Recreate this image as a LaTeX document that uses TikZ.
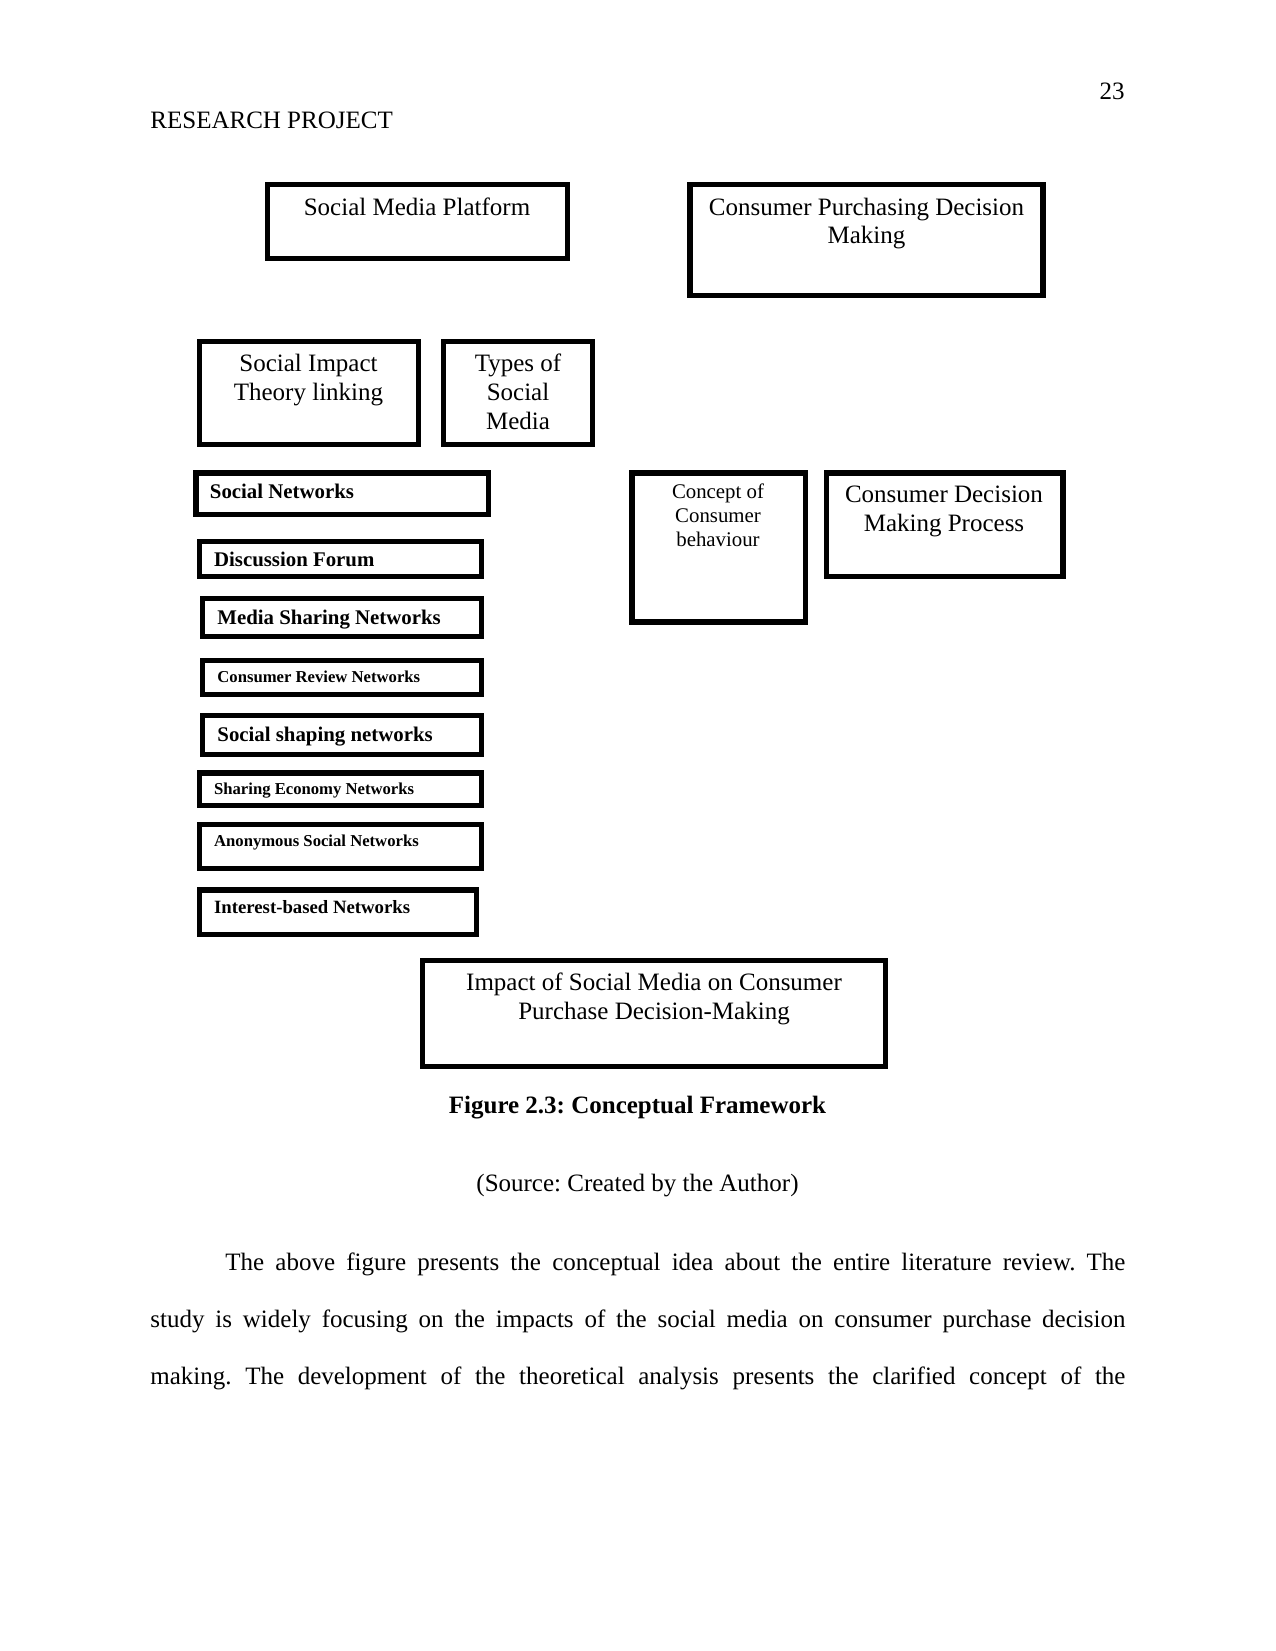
\documentclass[tikz,border=0pt]{standalone}
\usepackage{fontspec}
\setmainfont{Liberation Serif}
\usetikzlibrary{fit}
\frenchspacing
\tikzset{
  boxshape/.style={draw, line width=2.6pt, inner sep=0pt},
  twelve/.style={font=\fontsize{12}{13.8}\selectfont},
  ten/.style={font=\fontsize{10}{11.5}\selectfont},
  boldten/.style={font=\fontsize{10}{11.5}\selectfont\bfseries},
  boldnine/.style={font=\fontsize{9}{10.4}\selectfont\bfseries},
  boldeight/.style={font=\fontsize{8}{9.2}\selectfont\bfseries},
  lbl/.style={inner sep=0pt, anchor=base},
  lblw/.style={inner sep=0pt, anchor=base west},
}
\begin{document}
\frenchspacing
\begin{tikzpicture}[x=0.48pt, y=-0.48pt]
\useasboundingbox[fill=white] (0,0) rectangle (1275,1651);

% header
\node[lbl, twelve, anchor=base east] (pg) at (1125,100) {23};
\node[lblw, twelve] (hdr) at (150,128.5) {RESEARCH PROJECT};

% boxes
\node[boxshape, fit={(267.3,184.3) (567.7,258.7)}] (smp) {};
\node[boxshape, fit={(689.8,184.3) (1043.1,295.7)}] (cpdm) {};
\node[boxshape, fit={(199.3,341.3) (418.7,444.7)}] (sit) {};
\node[boxshape, fit={(443.3,341.3) (592.7,444.7)}] (tsm) {};
\node[boxshape, fit={(196,472.9) (488.3,514.7)}] (sn) {};
\node[boxshape, fit={(199.3,541.3) (481.7,576.7)}] (df) {};
\node[boxshape, fit={(631.9,472.9) (805.2,622)}] (ccb) {};
\node[boxshape, fit={(826.6,472.9) (1063.1,576.7)}] (cdmp) {};
\node[boxshape, fit={(202.3,598.3) (481.7,636.7)}] (msn) {};
\node[boxshape, fit={(202.3,660.3) (481.7,694.7)}] (crn) {};
\node[boxshape, fit={(202.3,715.3) (481.7,754.7)}] (ssn) {};
\node[boxshape, fit={(199.3,772.9) (481.7,805.2)}] (sen) {};
\node[boxshape, fit={(199.3,824.3) (481.7,868.4)}] (asn) {};
\node[boxshape, fit={(199.3,889.8) (476.7,934.7)}] (ibn) {};
\node[boxshape, fit={(422.3,960.3) (885.2,1066.3)}] (imp) {};

% box texts
\node[lbl, twelve] (smpt) at (417,215.5) {Social Media Platform};
\node[lbl, twelve] (cpdmt1) at (866.5,216) {Consumer Purchasing Decision};
\node[lbl, twelve] (cpdmt2) at (866.5,243.8) {Making};
\node[lbl, twelve] (sitt1) at (308.5,371) {Social Impact};
\node[lbl, twelve] (sitt2) at (308.5,400.3) {Theory linking};
\node[lbl, twelve] (tsmt1) at (518,371) {Types of};
\node[lbl, twelve] (tsmt2) at (518,400.3) {Social};
\node[lbl, twelve] (tsmt3) at (518,429.3) {Media};
\node[lblw, boldten] (snt) at (209.5,498.5) {Social Networks};
\node[lblw, boldten] (dft) at (213.7,566.5) {Discussion Forum};
\node[lbl, ten] (ccbt1) at (718,498) {Concept of};
\node[lbl, ten] (ccbt2) at (718,522) {Consumer};
\node[lbl, ten] (ccbt3) at (718,546) {behaviour};
\node[lbl, twelve] (cdmpt1) at (944,502.5) {Consumer Decision};
\node[lbl, twelve] (cdmpt2) at (944,531) {Making Process};
\node[lblw, boldten] (msnt) at (217,624.5) {Media Sharing Networks};
\node[lblw, boldeight] (crnt) at (217,682.5) {Consumer Review Networks};
\node[lblw, boldten] (ssnt) at (217,741) {Social shaping networks};
\node[lblw, boldeight] (sent) at (213.7,794.3) {Sharing Economy Networks};
\node[lblw, boldeight] (asnt) at (213.7,846.5) {Anonymous Social Networks};
\node[lblw, boldnine] (ibnt) at (213.7,913) {Interest-based Networks};
\node[lbl, twelve] (impt1) at (654,990) {Impact of Social Media on Consumer};
\node[lbl, twelve] (impt2) at (654,1019.3) {Purchase Decision-Making};

% caption and source
\node[lbl, font=\fontsize{12}{13.8}\selectfont\bfseries] (cap) at (637.5,1113.5) {Figure 2.3: Conceptual Framework};
\node[lbl, twelve] (src) at (637.5,1191) {(Source: Created by the Author)};

% paragraph
\node[lblw, twelve] (p1) at (225,1270.5) {\makebox[432pt][s]{The above figure presents the conceptual idea about the entire literature review. The}};
\node[lblw, twelve] (p2) at (150,1327.5) {\makebox[468pt][s]{study is widely focusing on the impacts of the social media on consumer purchase decision}};
\node[lblw, twelve] (p3) at (150,1384.5) {\makebox[468pt][s]{making. The development of the theoretical analysis presents the clarified concept of the}};
\end{tikzpicture}
\end{document}
